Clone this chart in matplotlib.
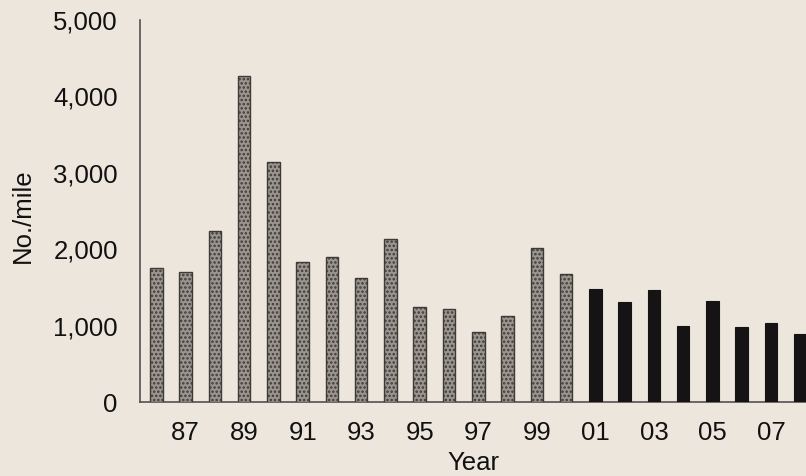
import matplotlib
matplotlib.use("Agg")
import matplotlib.pyplot as plt
import numpy as np

years = ["86", "87", "88", "89", "90", "91", "92", "93", "94", "95", "96", "97",
         "98", "99", "00", "01", "02", "03", "04", "05", "06", "07", "08"]
values = [1750, 1705, 2240, 4265, 3135, 1835, 1900, 1625, 2130, 1245, 1220, 910,
          1125, 2010, 1675, 1480, 1315, 1460, 990, 1325, 985, 1035, 895]
recent_start = "01"
yticks = [0, 1000, 2000, 3000, 4000, 5000]

plt.rcParams['font.family'] = ['Liberation Sans', 'DejaVu Sans']
plt.rcParams['hatch.color'] = '#3e3a37'
plt.rcParams['hatch.linewidth'] = 1.2
bg = '#ede6dc'
fig = plt.figure(figsize=(8.06, 4.76), dpi=100, facecolor=bg)
ax = fig.add_axes([140/806, 74/476, 666/806, 382/476])
ax.set_facecolor(bg)

x = np.arange(len(years))
split = years.index(recent_start)
ax.bar(x[:split], values[:split], width=0.43, color='#9a958f', edgecolor='#3e3a37',
       linewidth=1.0, hatch='....', zorder=3)
ax.bar(x[split:], values[split:], width=0.43, color='#151313', edgecolor='#151313',
       linewidth=0.8, zorder=3)

ax.set_xlim(-0.557, 22.197)
ax.set_ylim(0, 5000)
ax.set_yticks(yticks)
ax.set_yticklabels([f"{v:,}" for v in yticks])
ax.set_xticks(x[1::2])
ax.set_xticklabels(years[1::2])
ax.tick_params(axis='both', length=0, labelsize=18.5, colors='#111111')
ax.tick_params(axis='y', pad=16)
ax.tick_params(axis='x', pad=14)

for s in ['top', 'right']:
    ax.spines[s].set_visible(False)
for s in ['left', 'bottom']:
    ax.spines[s].set_color('#555150')
    ax.spines[s].set_linewidth(1.2)

ax.set_xlabel("Year", fontsize=18.5, color='#111111', labelpad=4)
fig.text(23/806, 1 - 216/476, "No./mile", rotation=90, fontsize=18.5,
         color='#111111', ha='center', va='center')

fig.savefig("out.png", dpi=100, facecolor=bg)
